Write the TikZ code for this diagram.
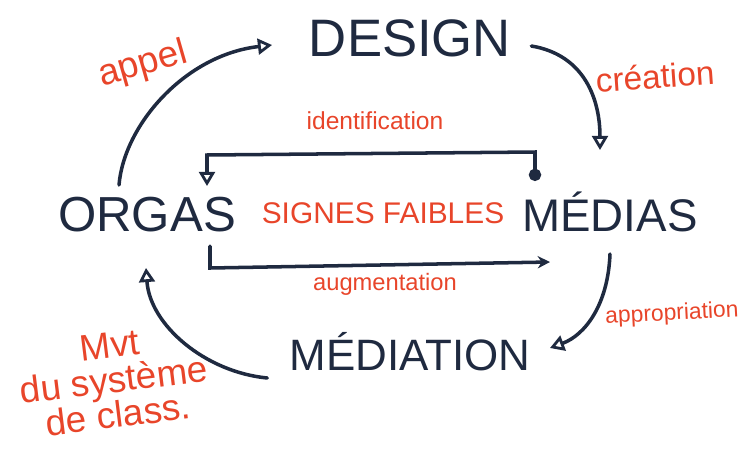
\documentclass[tikz,border=0pt]{standalone}
\usepackage{fontspec}
\setmainfont{Liberation Sans}
\usetikzlibrary{arrows.meta, positioning}
\definecolor{encre}{HTML}{1F2A40}
\definecolor{rouge}{HTML}{E8452A}

\begin{document}
\begin{tikzpicture}[x=0.02cm, y=-0.02cm,
    pole/.style={text=encre, inner sep=0pt, font=\fontsize{28}{30}\selectfont},
    note/.style={text=rouge, inner sep=0pt},
    fleche/.style={draw=encre, line width=2pt, line cap=round, -{Triangle[open, length=8pt, width=9pt, line width=1.6pt]}},
    boucle/.style={draw=encre, line width=2pt, line cap=round}]
        \useasboundingbox (0,0) rectangle (745,461);
        % les quatre poles
        \node[pole, font=\fontsize{30}{32}\selectfont] (design) at (410,38) {DESIGN};
        \node[pole, font=\fontsize{26}{28}\selectfont] (medias) at (610,212) {MÉDIAS};
        \node[pole, font=\fontsize{25}{27}\selectfont] (mediation) at (410,352) {MÉDIATION};
        \node[pole] (orgas) at (147,215) {ORGAS};
        \node[note, font=\fontsize{17}{19}\selectfont] (signes) at (383,213) {SIGNES FAIBLES};
        %
        \node[note, font=\fontsize{21}{23}\selectfont, rotate=16] (appel) at (143,65) {appel};
        \node[note, font=\fontsize{19}{21}\selectfont, rotate=4] (creation) at (655,76) {création};
        \node[note, font=\fontsize{14}{16}\selectfont] (identif) at (375,121) {identification};
        \node[note, font=\fontsize{13.5}{15}\selectfont] (augment) at (385,284) {augmentation};
        \node[note, font=\fontsize{13}{15}\selectfont, rotate=3] (approp) at (672,314) {appropriation};
        \node[note, font=\fontsize{21}{20}\selectfont, align=center, rotate=7] (mvt) at (114,380) {Mvt\\du système\\de class.};
        % le cycle
        \coordinate (d1) at (272,45);
        \coordinate (m1) at (600,150);
        \coordinate (n1) at (550,348);
        \coordinate (o1) at (146,268);
        \draw[fleche] ([shift={(-28,-30)}]orgas.center) .. controls (124,125) and (185,55) .. (d1);
        \draw[fleche] ([shift={(20,8)}]design.east) .. controls (585,55) and (600,100) .. (m1);
        \draw[fleche] ([shift={(0,42)}]medias.center) .. controls (608,305) and (585,335) .. (n1);
        \draw[fleche] ([shift={(-22,26)}]mediation.west) .. controls (205,372) and (150,325) .. (o1);
        % la boucle interne
        \coordinate (h1) at (535,181);
        \coordinate (h2) at (207,186);
        \coordinate (b1) at (210,246);
        \coordinate (b2) at (550,262);
        \draw[boucle, {Circle[length=7pt]}-{Triangle[open, length=8pt, width=9pt, line width=1.6pt]}] (h1) -- (535,152) -- (207,155) -- (h2);
        \draw[boucle, -{Stealth[length=7pt, width=7pt]}] (b1) -- (210,268) -- (b2);
    \end{tikzpicture}
\end{document}
